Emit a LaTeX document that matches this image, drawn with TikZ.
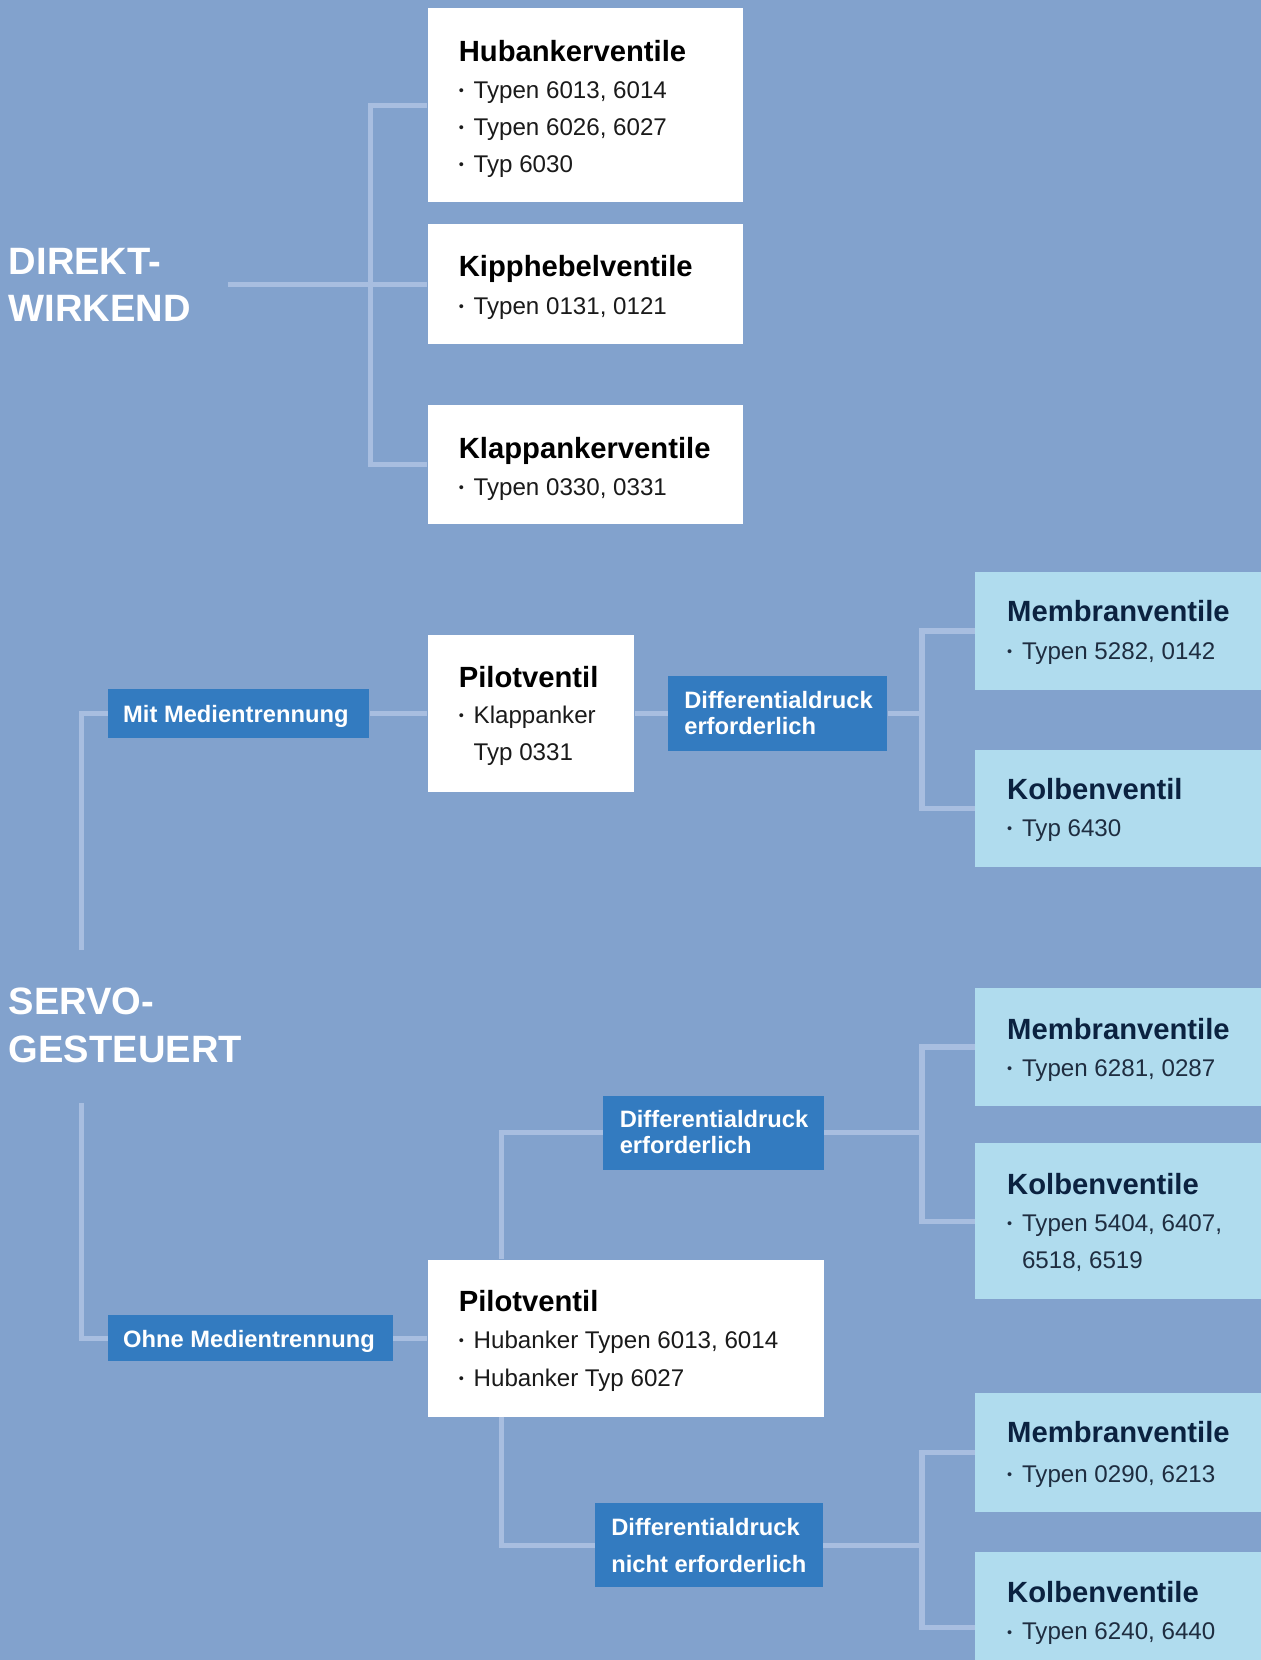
\documentclass[tikz,border=0pt]{standalone}
\usepackage{fontspec}
\setmainfont{Liberation Sans}
\usetikzlibrary{fit}
\definecolor{bgc}{HTML}{82A2CD}
\definecolor{connc}{HTML}{A8BEE0}
\definecolor{lblc}{HTML}{337BC0}
\definecolor{litec}{HTML}{B0DCEE}
\definecolor{navyc}{HTML}{0B2240}
\definecolor{navyb}{HTML}{1E2D40}
\definecolor{bodyc}{HTML}{1A1A1A}
\newcommand\blt{\makebox[7pt][l]{\raisebox{0.12em}{\scalebox{0.6}{\textbullet}}}}
\begin{document}
\begin{tikzpicture}[x=0.5pt,y=-0.5pt,
 conn/.style={draw=connc,line width=2.5pt,line join=miter,line cap=butt},
 wbox/.style={fill=white,inner sep=0pt,draw=none},
 lbox/.style={fill=litec,inner sep=0pt,draw=none},
 bbox/.style={fill=lblc,inner sep=0pt,draw=none},
 ttl/.style={anchor=base west,inner sep=0pt,text=black,font=\fontsize{13.8pt}{16pt}\selectfont\bfseries},
 txt/.style={anchor=base west,inner sep=0pt,text=bodyc,font=\fontsize{11.4pt}{14pt}\selectfont},
 nttl/.style={ttl,text=navyc},
 ntxt/.style={txt,text=navyb},
 lbltxt/.style={anchor=base west,inner sep=0pt,text=white,font=\fontsize{11.2pt}{14pt}\selectfont\bfseries},
 bigtxt/.style={anchor=base west,inner sep=0pt,text=white,font=\fontsize{18pt}{22pt}\selectfont\bfseries}]
\useasboundingbox (0,0) rectangle (1191,1568);
\fill[bgc] (0,0) rectangle (1191,1568);
\clip (0,0) rectangle (1191,1568);

% ---------- DIREKTWIRKEND ----------
\node[bigtxt] (direkt) at (8,259) {DIREKT-};
\node[bigtxt] (wirkend) at (8,304) {WIRKEND};

\node[wbox,fit={(404,8)(702,191)}] (hub) {};
\node[ttl] (hubT) at (433,58) {Hubankerventile};
\node[txt] (hub1) at (433,93) {\blt Typen 6013, 6014};
\node[txt] (hub2) at (433,128) {\blt Typen 6026, 6027};
\node[txt] (hub3) at (433,163) {\blt Typ 6030};

\node[wbox,fit={(404,212)(702,325)}] (kipp) {};
\node[ttl] (kippT) at (433,261) {Kipphebelventile};
\node[txt] (kipp1) at (433,297) {\blt Typen 0131, 0121};

\node[wbox,fit={(404,383)(702,495)}] (klapp) {};
\node[ttl] (klappT) at (433,433) {Klappankerventile};
\node[txt] (klapp1) at (433,468) {\blt Typen 0330, 0331};

\coordinate (dstart) at (215,268.5);
\coordinate (djoin) at (350,268.5);
\draw[conn] (dstart) -- (kipp.west);
\draw[conn] (hub.west) -| (djoin) |- (klapp.west);

% ---------- SERVO: mit Medientrennung ----------
\node[bigtxt] (servo) at (8,958) {SERVO-};
\node[bigtxt] (gesteuert) at (8,1004) {GESTEUERT};

\node[bbox,fit={(102,651)(349,697)}] (mit) {};
\node[lbltxt] (mitT) at (116,682.5) {Mit Medientrennung};

\node[wbox,fit={(404,600)(599,748)}] (p1) {};
\node[ttl] (p1T) at (433,649) {Pilotventil};
\node[txt] (p1a) at (433,683) {\blt Klappanker};
\node[txt] (p1b) at (447,718) {Typ 0331};

\node[bbox,fit={(631,639)(838,709)}] (d1) {};
\node[lbltxt] (d1a) at (646,669) {Differentialdruck};
\node[lbltxt] (d1b) at (646,694) {erforderlich};

\node[lbox,fit={(921,540)(1191,652)}] (m1) {};
\node[nttl] (m1T) at (951,587) {Membranventile};
\node[ntxt] (m1a) at (951,623) {\blt Typen 5282, 0142};

\node[lbox,fit={(921,708)(1191,819)}] (k1) {};
\node[nttl] (k1T) at (951,755) {Kolbenventil};
\node[ntxt] (k1a) at (951,790) {\blt Typ 6430};

\coordinate (s1) at (77,897);
\coordinate (j1) at (871,674);
\draw[conn] (s1) |- (mit.west);
\draw[conn] (mit.east) -- (p1.west);
\draw[conn] (p1.east) -- (d1.west);
\draw[conn] (d1.east) -- (j1);
\draw[conn] (m1.west) -| (j1) |- (k1.west);

% ---------- SERVO: ohne Medientrennung ----------
\node[bbox,fit={(102,1242)(371,1286)}] (ohne) {};
\node[lbltxt] (ohneT) at (116,1273) {Ohne Medientrennung};

\node[wbox,fit={(404,1190)(778,1338)}] (p2) {};
\node[ttl] (p2T) at (433,1239) {Pilotventil};
\node[txt] (p2a) at (433,1274) {\blt Hubanker Typen 6013, 6014};
\node[txt] (p2b) at (433,1310) {\blt Hubanker Typ 6027};

\node[bbox,fit={(570,1035)(778,1105)}] (d2) {};
\node[lbltxt] (d2a) at (585,1065) {Differentialdruck};
\node[lbltxt] (d2b) at (585,1089.5) {erforderlich};

\node[bbox,fit={(562,1420)(777,1499)}] (d3) {};
\node[lbltxt] (d3a) at (577,1450) {Differentialdruck};
\node[lbltxt] (d3b) at (577,1485) {nicht erforderlich};

\node[lbox,fit={(921,933)(1191,1045)}] (m2) {};
\node[nttl] (m2T) at (951,982) {Membranventile};
\node[ntxt] (m2a) at (951,1017) {\blt Typen 6281, 0287};

\node[lbox,fit={(921,1080)(1191,1227)}] (k2) {};
\node[nttl] (k2T) at (951,1128.5) {Kolbenventile};
\node[ntxt] (k2a) at (951,1163) {\blt Typen 5404, 6407,};
\node[ntxt] (k2b) at (965,1198) {6518, 6519};

\node[lbox,fit={(921,1316)(1191,1428)}] (m3) {};
\node[nttl] (m3T) at (951,1363) {Membranventile};
\node[ntxt] (m3a) at (951,1400) {\blt Typen 0290, 6213};

\node[lbox,fit={(921,1466)(1191,1608)}] (k3) {};
\node[nttl] (k3T) at (951,1513.5) {Kolbenventile};
\node[ntxt] (k3a) at (951,1549) {\blt Typen 6240, 6440};

\coordinate (s2) at (77,1042);
\coordinate (j2) at (871,1070);
\coordinate (j3) at (871,1459.5);
\draw[conn] (s2) |- (ohne.west);
\draw[conn] (ohne.east) -- (p2.west);
\draw[conn] ([xshift=35pt]p2.north west) |- (d2.west);
\draw[conn] (d2.east) -- (j2);
\draw[conn] (m2.west) -| (j2) |- (k2.west);
\draw[conn] ([xshift=35pt]p2.south west) |- (d3.west);
\draw[conn] (d3.east) -- (j3);
\draw[conn] (m3.west) -| (j3) |- (k3.west);
\end{tikzpicture}
\end{document}
